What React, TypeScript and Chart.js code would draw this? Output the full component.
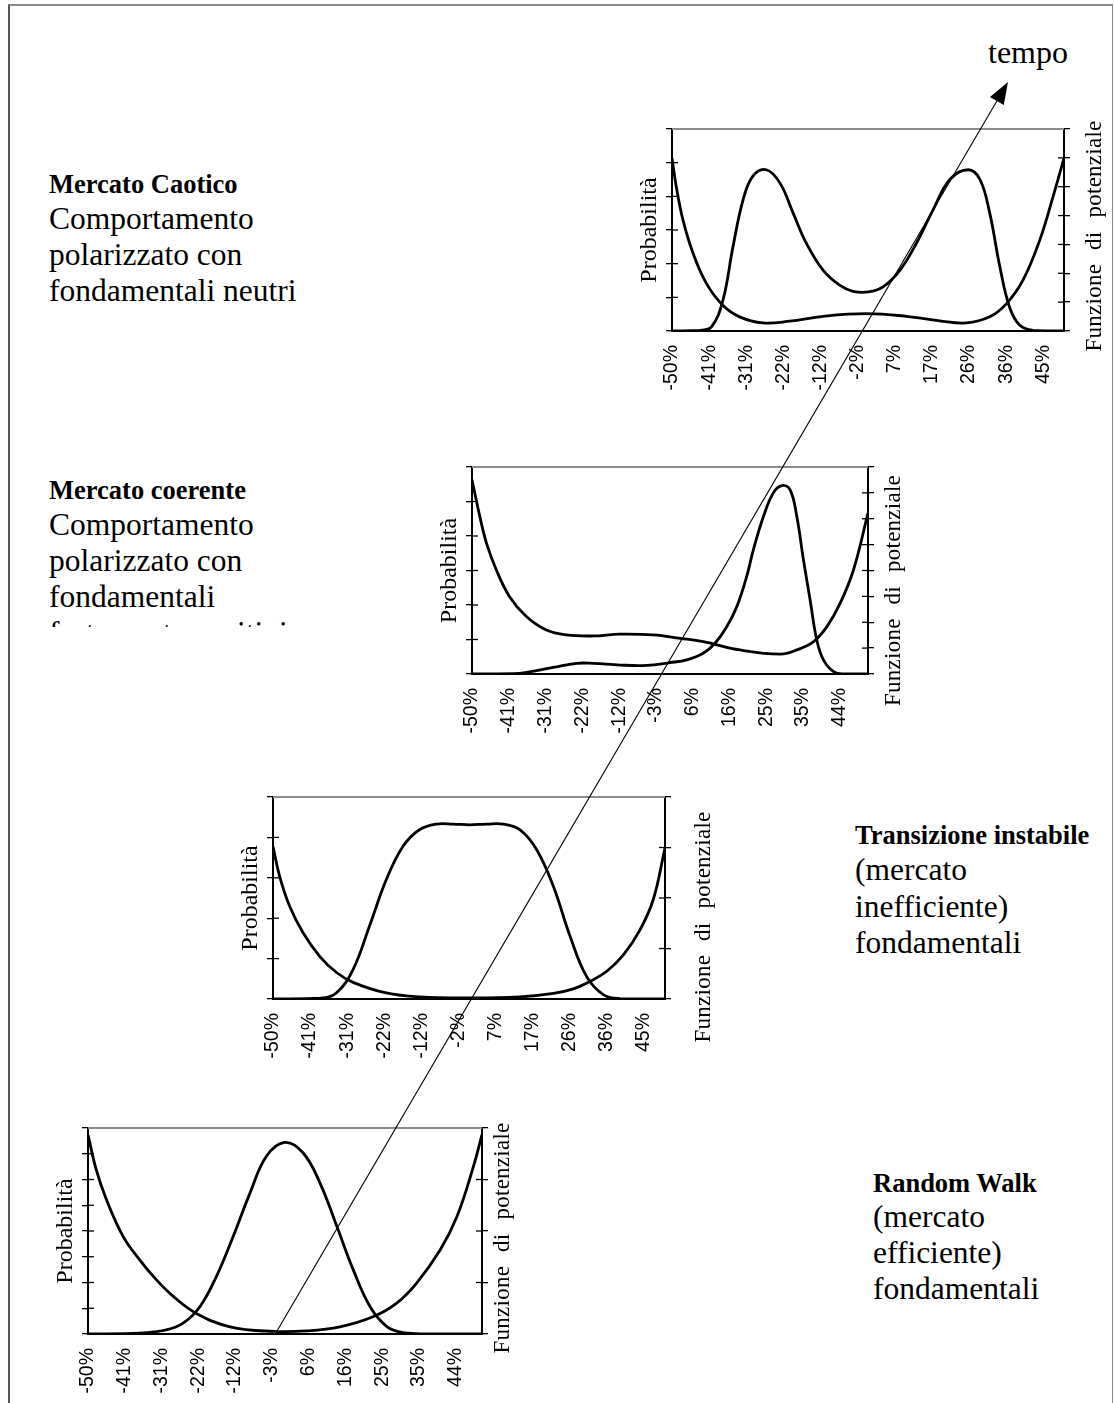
import React, { useEffect, useRef } from 'react';
import { Chart, registerables } from 'chart.js';

Chart.register(...registerables);

const SERIF = '"Liberation Serif", "Times New Roman", serif';
const SANS = '"Liberation Sans", Arial, sans-serif';

// ---------- tick labels ----------
const xTickValuesA = [-50, -40.5, -31, -21.5, -12, -2.5, 7, 16.5, 26, 35.5, 45];
const xTickLabelsA = ['-50%', '-41%', '-31%', '-22%', '-12%', '-2%', '7%', '17%', '26%', '36%', '45%'];
const xTickValuesB = [-50, -40.6, -31.2, -21.8, -12.4, -3, 6.4, 15.8, 25.2, 34.6, 44];
const xTickLabelsB = ['-50%', '-41%', '-31%', '-22%', '-12%', '-3%', '6%', '16%', '25%', '35%', '44%'];

// ---------- Mercato Caotico ----------
const caoticoProbX = [-50, -42.9, -39.9, -37, -34.4, -31.8, -29.3, -25.9, -22.4, -19, -15.6, -11.3, -7.1, -3.7, 0.2, 4, 8.3, 12.5, 16.8, 21.1, 25.8, 28.8, 31.3, 33.9, 36.4, 39, 42.4, 50.3];
const caoticoProbY = [0, 0.02, 0.12, 0.9, 2.5, 3.9, 4.6, 4.79, 4.4, 3.5, 2.6, 1.8, 1.36, 1.18, 1.16, 1.31, 1.8, 2.6, 3.6, 4.5, 4.79, 4.5, 3.5, 1.9, 0.7, 0.17, 0.02, 0];
const caoticoPotX = [-50, -48.9, -47.2, -44.6, -41.2, -37, -32.7, -26.7, -19.9, -11.3, -0.3, 10, 18.5, 25.3, 31.3, 35.6, 39.8, 44.1, 47.5, 50.3];
const caoticoPotY = [5.99, 5.0, 3.85, 2.69, 1.65, 0.89, 0.49, 0.28, 0.34, 0.51, 0.6, 0.51, 0.35, 0.28, 0.49, 0.95, 1.76, 3.15, 4.66, 5.99];

// ---------- Mercato coerente ----------
const coerenteProbX = [-50, -37.8, -33.5, -29.3, -23.3, -19, -12.2, -5.4, 0.6, 4.9, 9.1, 12.1, 15.1, 17.7, 20.2, 21.9, 24.5, 27, 29.2, 31.3, 33, 34.7, 36.4, 38.1, 39.8, 42.4, 45, 51.2];
const coerenteProbY = [0, 0.02, 0.1, 0.19, 0.31, 0.31, 0.26, 0.25, 0.33, 0.41, 0.6, 0.89, 1.37, 1.96, 2.83, 3.6, 4.57, 5.25, 5.46, 5.34, 4.57, 3.31, 2.15, 0.99, 0.41, 0.07, 0, 0];
const coerentePotX = [-50, -48, -46.3, -43.8, -40.4, -36.1, -31, -25.9, -19, -12.2, -3.7, 3.2, 9.1, 18.5, 28.8, 33, 37.3, 40.7, 44.1, 47.5, 51.2];
const coerentePotY = [7.51, 6.09, 5.06, 4.03, 2.99, 2.22, 1.7, 1.51, 1.47, 1.54, 1.51, 1.38, 1.25, 0.93, 0.77, 0.93, 1.25, 1.83, 2.74, 4.03, 6.22];

// ---------- Transizione instabile ----------
const transizioneProbX = [-50, -38, -33.8, -29.5, -25.3, -21, -16.7, -12.5, -8.2, -3.9, 0.4, 4.7, 9, 13.2, 17.5, 21.8, 26.1, 30.3, 34.6, 38.9, 50.4];
const transizioneProbY = [0, 0.02, 0.15, 0.73, 1.8, 2.95, 3.78, 4.19, 4.33, 4.33, 4.31, 4.33, 4.33, 4.19, 3.7, 2.79, 1.55, 0.56, 0.11, 0.01, 0];
const transizionePotX = [-50, -48.3, -45.7, -42.3, -38, -33.8, -29.5, -21, -12.4, 0.4, 13.2, 21.8, 26.9, 31.2, 35.5, 39.8, 44, 47.4, 50.4];
const transizionePotY = [3.02, 2.43, 1.83, 1.31, 0.84, 0.53, 0.33, 0.12, 0.04, 0.02, 0.04, 0.11, 0.2, 0.35, 0.55, 0.88, 1.37, 1.97, 2.99];

// ---------- Random Walk ----------
const randomProbX = [-50, -36.8, -30, -25.7, -21.4, -17.2, -12.9, -8.6, -4.4, 0.3, 5, 9.3, 13.6, 17.8, 22.1, 26.4, 30.6, 35.8, 50.7];
const randomProbY = [0, 0.03, 0.16, 0.42, 1.06, 2.23, 3.79, 5.47, 6.9, 7.44, 7.03, 5.86, 4.18, 2.49, 1.06, 0.29, 0.05, 0, 0];
const randomPotX = [-50, -47.9, -45.3, -41, -36.8, -32.5, -28.2, -22.3, -13.7, -2.6, 5.9, 14.4, 23, 28.9, 34, 40, 44.3, 48.5, 50.7];
const randomPotY = [3.87, 3.19, 2.61, 1.89, 1.44, 1.05, 0.73, 0.4, 0.14, 0.05, 0.06, 0.14, 0.34, 0.6, 0.99, 1.63, 2.28, 3.25, 3.87];

// ---------- texts ----------
const leftAxisTitle = 'Probabilità';
const rightAxisTitle = 'Funzione di potenziale';
const arrowLabel = 'tempo';
const caoticoText = ['Mercato Caotico', 'Comportamento', 'polarizzato con', 'fondamentali neutri'];
const coerenteText = ['Mercato coerente', 'Comportamento', 'polarizzato con', 'fondamentali', 'fortemente positivi'];
const transizioneText = ['Transizione instabile', '(mercato', 'inefficiente)', 'fondamentali'];
const randomText = ['Random Walk', '(mercato', 'efficiente)', 'fondamentali'];

// ---------- layout ----------
const M = { l: 60, r: 60, t: 10, b: 72 };

const PANELS = [
  { plot: { left: 672, top: 129, w: 392, h: 202 }, xMax: 50.3, tv: xTickValuesA, tl: xTickLabelsA,
    probX: caoticoProbX, probY: caoticoProbY, potX: caoticoPotX, potY: caoticoPotY, leftMax: 6, rightMax: 7, titleOffset: 31, titleDy: 6 },
  { plot: { left: 472, top: 467, w: 396, h: 207 }, xMax: 51.2, tv: xTickValuesB, tl: xTickLabelsB,
    probX: coerenteProbX, probY: coerenteProbY, potX: coerentePotX, potY: coerentePotY, leftMax: 6, rightMax: 8, titleOffset: 26, titleDy: 20 },
  { plot: { left: 273, top: 797, w: 392, h: 202 }, xMax: 50.4, tv: xTickValuesA, tl: xTickLabelsA,
    probX: transizioneProbX, probY: transizioneProbY, potX: transizionePotX, potY: transizionePotY, leftMax: 5, rightMax: 4, titleOffset: 39, titleDy: 29 },
  { plot: { left: 88, top: 1128, w: 394, h: 206 }, xMax: 50.7, tv: xTickValuesB, tl: xTickLabelsB,
    probX: randomProbX, probY: randomProbY, potX: randomPotX, potY: randomPotY, leftMax: 8, rightMax: 4, titleOffset: 21, titleDy: 7 },
];

const TEXT_BLOCKS = [
  { left: 49, clipTop: 140, clipBottom: 330, lines: caoticoText, baselines: [193, 229, 265, 301] },
  { left: 49, clipTop: 460, clipBottom: 627, lines: coerenteText, baselines: [499, 535, 571.5, 607.5, 643.5] },
  { left: 855, clipTop: 800, clipBottom: 980, lines: transizioneText, baselines: [844, 880.5, 917, 953] },
  { left: 873, clipTop: 1150, clipBottom: 1320, lines: randomText, baselines: [1192, 1227.5, 1263.5, 1299] },
];

const BOLD_SIZE = 26.5;
const REG_SIZE = 31.5;

const decorPlugin = {
  id: 'decor',
  beforeDatasetsDraw(chart: any) {
    const { ctx, chartArea: a } = chart;
    ctx.save();
    ctx.strokeStyle = '#000';
    ctx.lineWidth = 1.3;
    const stub = 6;
    ['yL', 'yR'].forEach((id) => {
      const s = chart.scales[id];
      const x0 = id === 'yL' ? a.left : a.right - stub;
      s.ticks.forEach((t: any) => {
        const y = s.getPixelForValue(t.value);
        ctx.beginPath();
        ctx.moveTo(x0, y);
        ctx.lineTo(x0 + stub, y);
        ctx.stroke();
      });
    });
    ctx.restore();
  },
  afterDraw(chart: any, _args: any, opts: any) {
    const { ctx, chartArea: a } = chart;
    ctx.save();
    ctx.strokeStyle = '#8c8c8c';
    ctx.lineWidth = 2;
    ctx.beginPath();
    ctx.moveTo(a.left, a.top);
    ctx.lineTo(a.right, a.top);
    ctx.stroke();
    ctx.fillStyle = '#000';
    ctx.font = `23px ${SERIF}`;
    try {
      (ctx as any).letterSpacing = '0.25px';
      (ctx as any).wordSpacing = '8px';
    } catch (e) {}
    ctx.translate(a.right + opts.titleOffset, (a.top + a.bottom) / 2 + opts.titleDy);
    ctx.rotate(-Math.PI / 2);
    ctx.textAlign = 'center';
    ctx.textBaseline = 'middle';
    ctx.fillText(opts.text, 0, 0);
    ctx.restore();
  },
};

function Panel({ p }: { p: any }) {
  const ref = useRef<HTMLCanvasElement>(null);
  const W = p.plot.w + M.l + M.r;
  const H = p.plot.h + M.t + M.b;
  useEffect(() => {
    if (!ref.current) return;
    const line = {
      borderColor: '#000',
      borderWidth: 2.8,
      pointRadius: 0,
      tension: 0.4,
      fill: false,
    };
    const chart = new Chart(ref.current, {
      type: 'line',
      data: {
        datasets: [
          { ...line, yAxisID: 'yL', data: p.probX.map((x: number, i: number) => ({ x, y: p.probY[i] })) },
          { ...line, yAxisID: 'yR', data: p.potX.map((x: number, i: number) => ({ x, y: p.potY[i] })) },
        ],
      } as any,
      options: {
        animation: false,
        responsive: false,
        maintainAspectRatio: false,
        events: [],
        layout: { padding: { top: M.t, left: 0, right: 0, bottom: 0 } },
        plugins: {
          legend: { display: false },
          tooltip: { enabled: false },
          decor: { titleOffset: p.titleOffset, titleDy: p.titleDy, text: rightAxisTitle },
        } as any,
        scales: {
          x: {
            type: 'linear',
            position: 'bottom',
            min: -50,
            max: p.xMax,
            bounds: 'data',
            grid: { display: false, drawTicks: false },
            border: { display: true, color: '#000', width: 2 },
            afterBuildTicks: (s: any) => {
              s.ticks = p.tv.map((v: number) => ({ value: v }));
            },
            afterFit: (s: any) => {
              s.height = M.b;
            },
            ticks: {
              autoSkip: false,
              minRotation: 90,
              maxRotation: 90,
              padding: 14,
              color: '#000',
              font: { family: SANS, size: 19.5 },
              callback: (_v: any, i: number) => p.tl[i],
            },
          },
          yL: {
            type: 'linear',
            position: 'left',
            min: 0,
            max: p.leftMax,
            afterFit: (s: any) => {
              s.width = M.l;
            },
            ticks: { display: false, stepSize: 1 },
            grid: { drawOnChartArea: false, drawTicks: true, tickLength: 6, color: '#000', lineWidth: 1.3 },
            border: { display: true, color: '#000', width: 2 },
            title: {
              display: true,
              text: leftAxisTitle,
              color: '#000',
              font: { family: SERIF, size: 24, lineHeight: 1.2 },
              padding: { top: M.l - 22 - 14.4, bottom: 0 },
            },
          },
          yR: {
            type: 'linear',
            position: 'right',
            min: 0,
            max: p.rightMax,
            afterFit: (s: any) => {
              s.width = M.r;
            },
            ticks: { display: false, stepSize: 1 },
            grid: { drawOnChartArea: false, drawTicks: true, tickLength: 6, color: '#000', lineWidth: 1.3 },
            border: { display: true, color: '#000', width: 2 },
          },
        } as any,
      },
      plugins: [decorPlugin as any],
    });
    return () => chart.destroy();
  }, []);
  return (
    <canvas
      ref={ref}
      width={W}
      height={H}
      style={{ position: 'absolute', left: p.plot.left - M.l, top: p.plot.top - M.t, width: W, height: H }}
    />
  );
}

function TextBlock({ b }: { b: any }) {
  return (
    <div
      style={{
        position: 'absolute',
        left: 0,
        top: b.clipTop,
        width: 1114,
        height: b.clipBottom - b.clipTop,
        overflow: 'hidden',
      }}
    >
      {b.lines.map((t: string, i: number) => {
        const fs = i === 0 ? BOLD_SIZE : REG_SIZE;
        return (
          <div
            key={i}
            style={{
              position: 'absolute',
              left: b.left,
              top: b.baselines[i] - b.clipTop - 0.8375 * fs,
              fontFamily: SERIF,
              fontSize: fs,
              lineHeight: `${fs}px`,
              fontWeight: i === 0 ? 'bold' : 'normal',
              whiteSpace: 'nowrap',
              color: '#000',
            }}
          >
            {t}
          </div>
        );
      })}
    </div>
  );
}

function Arrow() {
  const x1 = 277, y1 = 1331, x2 = 1008, y2 = 82;
  const len = Math.hypot(x2 - x1, y2 - y1);
  const ux = (x2 - x1) / len, uy = (y2 - y1) / len;
  const hl = 22, hw = 8;
  const bx = x2 - ux * hl, by = y2 - uy * hl;
  const nx = -uy, ny = ux;
  const pts = `${x2},${y2} ${bx + nx * hw},${by + ny * hw} ${bx - nx * hw},${by - ny * hw}`;
  return (
    <svg width={1114} height={1403} style={{ position: 'absolute', left: 0, top: 0, pointerEvents: 'none' }}>
      <line x1={x1} y1={y1} x2={bx} y2={by} stroke="#000" strokeWidth={1.1} />
      <polygon points={pts} fill="#000" />
    </svg>
  );
}

export default function App() {
  return (
    <div
      style={{
        position: 'absolute',
        left: 0,
        top: 0,
        width: 1114,
        height: 1403,
        overflow: 'hidden',
        background: '#fff',
      }}
    >
      <div
        style={{
          position: 'absolute',
          left: 8,
          top: 4,
          width: 1102,
          height: 1420,
          borderTop: '2px solid #8a8a8a',
          borderLeft: '2px solid #555',
          borderRight: '1px solid #888',
        }}
      />
      {TEXT_BLOCKS.map((b, i) => (
        <TextBlock key={i} b={b} />
      ))}
      {PANELS.map((p, i) => (
        <Panel key={i} p={p} />
      ))}
      <div
        style={{
          position: 'absolute',
          left: 988,
          top: 63 - 0.8375 * 32,
          fontFamily: SERIF,
          fontSize: 32,
          lineHeight: '32px',
          whiteSpace: 'nowrap',
          color: '#000',
        }}
      >
        {arrowLabel}
      </div>
      <Arrow />
    </div>
  );
}
